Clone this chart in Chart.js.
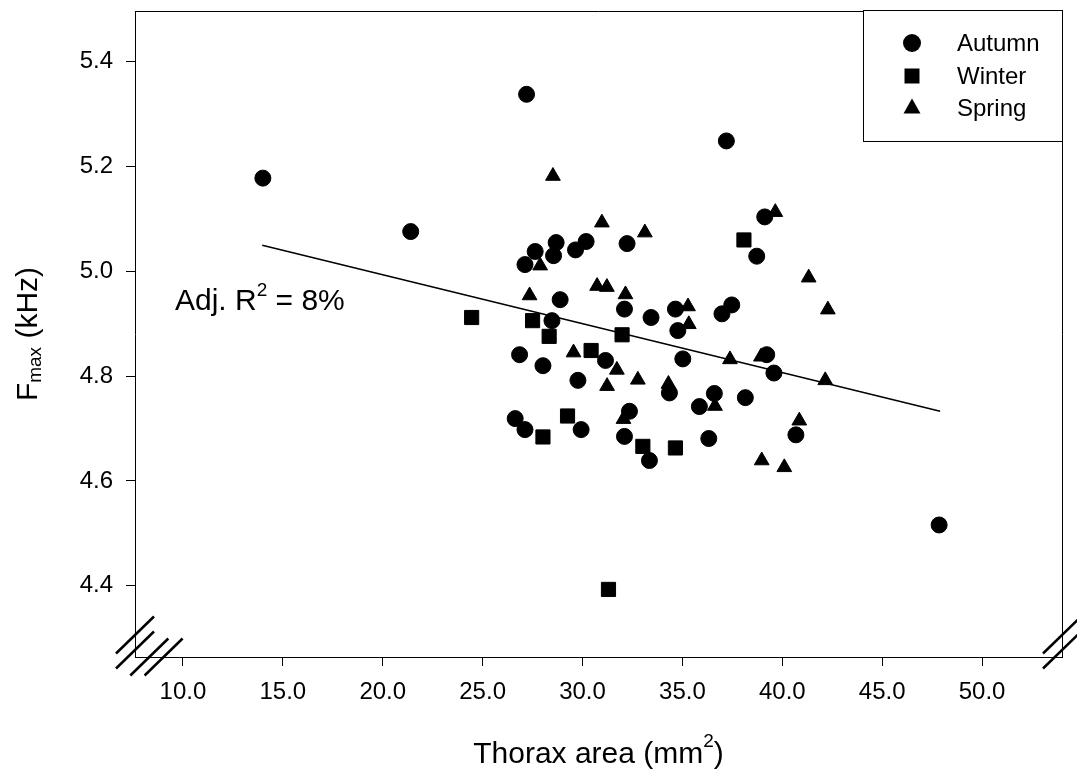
<!DOCTYPE html>
<html>
<head>
<meta charset="utf-8">
<script src="https://cdn.jsdelivr.net/npm/chart.js@4.4.1/dist/chart.umd.min.js"></script>
<style>
  html, body { margin: 0; padding: 0; background: #fff; }
  #wrap { width: 1077px; height: 774px; }
</style>
</head>
<body>
<div id="wrap"><canvas id="chart" width="1077" height="774"></canvas></div>
<script>
// Fmax (kHz) against thorax area (mm2), one series per season
const autumnX = [14.0, 21.4, 27.2, 37.2, 28.68, 27.63, 28.55, 27.12, 28.88, 28.47, 26.85, 28.02, 26.63, 27.12,
  30.18, 29.65, 32.23, 39.12, 38.72, 32.1, 33.43, 34.65, 34.77, 36.98, 37.47, 31.15, 35.02, 39.22, 39.58,
  29.77, 34.35, 36.6, 35.85, 38.15, 32.35, 29.93, 32.1, 33.35, 36.32, 40.68, 47.85];
const autumnY = [5.178, 5.076, 5.338, 5.249, 5.055, 5.038, 5.030, 5.013, 4.946, 4.906, 4.841, 4.820, 4.719, 4.698,
  5.057, 5.041, 5.053, 5.104, 5.029, 4.928, 4.912, 4.928, 4.887, 4.919, 4.936, 4.830, 4.833, 4.841, 4.806,
  4.792, 4.768, 4.767, 4.742, 4.759, 4.733, 4.698, 4.685, 4.639, 4.681, 4.688, 4.516];

const winterX = [24.45, 27.5, 28.33, 28.02, 29.25, 38.08, 31.98, 30.43, 33.02, 34.65, 31.3];
const winterY = [4.912, 4.906, 4.876, 4.684, 4.724, 5.060, 4.879, 4.849, 4.666, 4.663, 4.393];

const springX = [28.52, 27.88, 27.35, 30.97, 33.12, 39.65, 41.32, 42.28, 30.73, 31.22, 32.15, 35.28, 35.32,
  29.55, 31.72, 37.38, 38.93, 42.15, 31.23, 32.77, 34.3, 36.63, 32.05, 40.85, 38.97, 40.1];
const springY = [5.182, 5.011, 4.954, 5.093, 5.074, 5.113, 4.988, 4.927, 4.972, 4.970, 4.956, 4.933, 4.899,
  4.845, 4.812, 4.832, 4.837, 4.792, 4.781, 4.793, 4.785, 4.743, 4.718, 4.715, 4.639, 4.626];

// regression line end points
const fitX = [13.97, 47.9];
const fitY = [5.050, 4.733];

const seasons = ['Autumn', 'Winter', 'Spring'];
const xTicks = [10, 15, 20, 25, 30, 35, 40, 45, 50];
const yTicks = [4.4, 4.6, 4.8, 5.0, 5.2, 5.4];

const FONT = '"Liberation Sans", Arial, sans-serif';
Chart.defaults.font.family = FONT;
Chart.defaults.color = '#000';

function toPoints(xs, ys) {
  return xs.map(function (x, i) { return { x: x, y: ys[i] }; });
}

// text pieces with super/subscripts
function drawRich(ctx, parts, x, y) {
  let cx = x;
  parts.forEach(function (p) {
    ctx.font = p.size + 'px ' + FONT;
    ctx.fillText(p.text, cx, y + (p.dy || 0));
    cx += ctx.measureText(p.text).width;
  });
}
function richWidth(ctx, parts) {
  let w = 0;
  parts.forEach(function (p) {
    ctx.font = p.size + 'px ' + FONT;
    w += ctx.measureText(p.text).width;
  });
  return w;
}

const extras = {
  id: 'extras',
  afterDraw(chart) {
    const ctx = chart.ctx;
    const a = chart.chartArea;
    const sx = chart.scales.x, sy = chart.scales.y;
    ctx.save();
    ctx.strokeStyle = '#000';
    ctx.fillStyle = '#000';

    // top and right frame
    ctx.lineWidth = 1;
    ctx.beginPath();
    ctx.moveTo(a.left, a.top + 0.5);
    ctx.lineTo(a.right + 0.5, a.top + 0.5);
    ctx.lineTo(a.right + 0.5, a.bottom);
    ctx.stroke();

    // axis break marks
    ctx.lineWidth = 2.5;
    const slash = function (cx, cy) {
      ctx.beginPath();
      ctx.moveTo(cx - 19, cy + 18.5);
      ctx.lineTo(cx + 19, cy - 18.5);
      ctx.stroke();
    };
    slash(a.left, a.bottom - 22);
    slash(a.left, a.bottom - 7);
    slash(a.right, a.bottom - 22);
    slash(a.right, a.bottom - 7);
    slash(a.left + 14.3, a.bottom);
    slash(a.left + 28.6, a.bottom);

    // legend box
    const lw = 199, lh = 131;
    const lx = a.right - lw, ly = a.top - 1;
    ctx.lineWidth = 1;
    ctx.fillStyle = '#fff';
    ctx.fillRect(lx, ly, lw, lh);
    ctx.strokeRect(lx + 0.5, ly + 0.5, lw, lh);
    ctx.fillStyle = '#000';
    const rows = [33, 66, 98];
    ctx.textBaseline = 'middle';
    ctx.font = '24px ' + FONT;
    seasons.forEach(function (name, i) {
      const mx = lx + 49, my = ly + rows[i];
      ctx.beginPath();
      if (i === 0) {
        ctx.arc(mx, my, 9, 0, Math.PI * 2);
      } else if (i === 1) {
        ctx.rect(mx - 7.5, my - 7.5, 15, 15);
      } else {
        ctx.moveTo(mx, my - 9.5);
        ctx.lineTo(mx + 8.5, my + 5.5);
        ctx.lineTo(mx - 8.5, my + 5.5);
        ctx.closePath();
      }
      ctx.fill();
      ctx.fillText(name, lx + 94, my + 1);
    });

    ctx.textBaseline = 'alphabetic';
    ctx.textAlign = 'left';

    // R squared note
    drawRich(ctx, [
      { text: 'Adj. R', size: 30 },
      { text: '2', size: 19, dy: -14 },
      { text: ' = 8%', size: 30 }
    ], sx.getPixelForValue(9.6), sy.getPixelForValue(4.927));

    // x axis title
    const xt = [
      { text: 'Thorax area (mm', size: 30 },
      { text: '2', size: 19, dy: -16 },
      { text: ')', size: 30 }
    ];
    const xw = richWidth(ctx, xt);
    drawRich(ctx, xt, (a.left + a.right) / 2 - xw / 2, 763);

    // y axis title
    const yt = [
      { text: 'F', size: 30 },
      { text: 'max', size: 19, dy: 4 },
      { text: ' (kHz)', size: 30 }
    ];
    const yw = richWidth(ctx, yt);
    ctx.translate(37, (a.top + a.bottom) / 2);
    ctx.rotate(-Math.PI / 2);
    drawRich(ctx, yt, -yw / 2, 0);

    ctx.restore();
  }
};

const ctx = document.getElementById('chart');
new Chart(ctx, {
  type: 'scatter',
  data: {
    datasets: [
      {
        label: seasons[0],
        data: toPoints(autumnX, autumnY),
        pointStyle: 'circle',
        pointRadius: 8,
        pointHoverRadius: 8,
        backgroundColor: '#000',
        borderColor: '#000',
        borderWidth: 1
      },
      {
        label: seasons[1],
        data: toPoints(winterX, winterY),
        pointStyle: 'rect',
        pointRadius: 10,
        pointHoverRadius: 10,
        backgroundColor: '#000',
        borderColor: '#000',
        borderWidth: 1
      },
      {
        label: seasons[2],
        data: toPoints(springX, springY),
        pointStyle: 'triangle',
        pointRadius: 8.5,
        pointHoverRadius: 8.5,
        backgroundColor: '#000',
        borderColor: '#000',
        borderWidth: 1
      },
      {
        label: 'fit',
        data: toPoints(fitX, fitY),
        showLine: true,
        pointRadius: 0,
        borderColor: '#000',
        borderWidth: 1.5,
        fill: false
      }
    ]
  },
  options: {
    responsive: false,
    devicePixelRatio: 1,
    animation: false,
    layout: { padding: { left: 0, top: 10, right: 15, bottom: 0 } },
    plugins: {
      legend: { display: false },
      tooltip: { enabled: false }
    },
    scales: {
      x: {
        type: 'linear',
        position: 'bottom',
        min: 7.6,
        max: 54,
        afterBuildTicks: function (scale) {
          scale.ticks = xTicks.map(function (v) { return { value: v }; });
        },
        afterFit: function (scale) {
          scale.height = 117;
          scale.paddingLeft = 0;
          scale.paddingRight = 0;
        },
        grid: { drawOnChartArea: false, drawTicks: true, tickLength: 9, color: '#000' },
        border: { display: true, color: '#000', width: 1 },
        ticks: {
          padding: 12,
          maxRotation: 0,
          font: { size: 24 },
          color: '#000',
          callback: function (v) { return Number(v).toFixed(1); }
        }
      },
      y: {
        type: 'linear',
        position: 'left',
        min: 4.264,
        max: 5.497,
        afterBuildTicks: function (scale) {
          scale.ticks = yTicks.map(function (v) { return { value: v }; });
        },
        afterFit: function (scale) {
          scale.width = 135;
          scale.paddingTop = 0;
          scale.paddingBottom = 0;
        },
        grid: { drawOnChartArea: false, drawTicks: true, tickLength: 9, color: '#000' },
        border: { display: true, color: '#000', width: 1 },
        ticks: {
          padding: 13,
          font: { size: 24 },
          color: '#000',
          callback: function (v) { return Number(v).toFixed(1); }
        }
      }
    }
  },
  plugins: [extras]
});
</script>
</body>
</html>
